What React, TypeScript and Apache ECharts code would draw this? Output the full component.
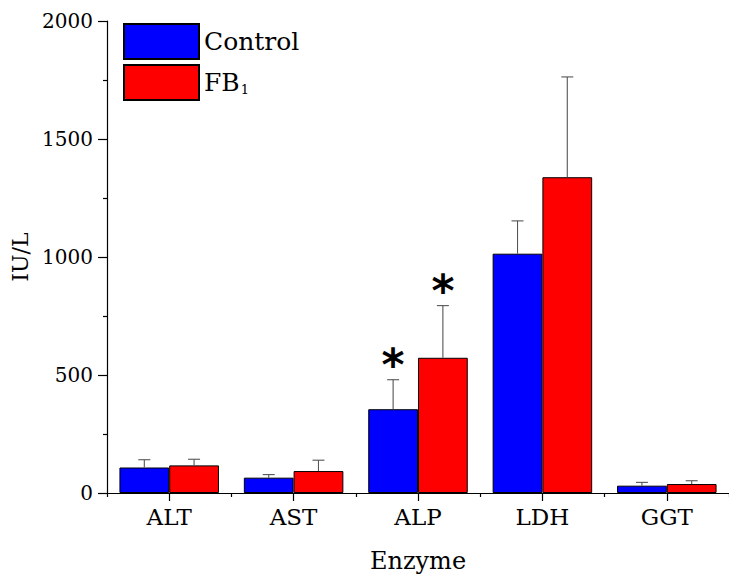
import React, { useEffect, useRef } from "react";
import * as echarts from "echarts";

const categories = ["ALT", "AST", "ALP", "LDH", "GGT"];
const controlMeans = [108, 65, 355, 1014, 31];
const controlErr = [33, 13, 125, 139, 14];
const fbMeans = [117, 93, 573, 1338, 38];
const fbErr = [26, 46, 221, 425, 14];
const controlSig = [false, false, true, false, false];
const fbSig = [false, false, true, false, false];
const yTicks = [0, 500, 1000, 1500, 2000];

const FONT = "DejaVu Serif";

function errData(means: number[], errs: number[], sig: boolean[]) {
  return means.map((m, i) => [i, m, m + errs[i], sig[i] ? 1 : 0]);
}

function makeRender(side: number) {
  return (params: any, api: any) => {
    const idx = api.value(0);
    const lo = api.coord([idx, api.value(1)]);
    const hi = api.coord([idx, api.value(2)]);
    const band = api.size([1, 0])[0];
    const cx = lo[0] + side * band * 0.2;
    const cap = 6;
    const children: any[] = [
      {
        type: "line",
        shape: { x1: cx, y1: lo[1], x2: cx, y2: hi[1] },
        style: { stroke: "#555", lineWidth: 1.1 },
      },
      {
        type: "line",
        shape: { x1: cx - cap, y1: hi[1], x2: cx + cap, y2: hi[1] },
        style: { stroke: "#555", lineWidth: 1.1 },
      },
    ];
    if (api.value(3) === 1) {
      children.push({
        type: "text",
        x: cx,
        y: hi[1] + 7,
        style: {
          text: "*",
          fill: "#000",
          font: "bold 44px DejaVu Sans",
          textAlign: "center",
          textVerticalAlign: "bottom",
        },
      });
    }
    return { type: "group", children };
  };
}

export default function App() {
  const ref = useRef<HTMLDivElement>(null);
  useEffect(() => {
    if (!ref.current) return;
    const chart = echarts.init(ref.current, null, { renderer: "svg" });
    chart.setOption({
      animation: false,
      backgroundColor: "#fff",
      textStyle: { fontFamily: FONT, color: "#000" },
      grid: { left: 107, right: 8, top: 21, bottom: 95 },
      legend: {
        data: ["Control", "FB1"],
        orient: "vertical",
        left: 123,
        top: 23,
        icon: "rect",
        itemWidth: 75,
        itemHeight: 35,
        itemGap: 4,
        padding: 0,
        formatter: (name: string) => (name === "FB1" ? "{a|FB}{b|1}" : "{a|" + name + "}"),
        textStyle: {
          rich: {
            a: { fontFamily: FONT, fontSize: 25, color: "#000" },
            b: { fontFamily: FONT, fontSize: 13, color: "#000", padding: [14, 0, 0, 1] },
          },
        },
      },
      xAxis: [
        {
          type: "category",
          data: categories,
          name: "Enzyme",
          nameLocation: "middle",
          nameGap: 56,
          nameTextStyle: { fontFamily: FONT, fontSize: 24, color: "#000" },
          axisLine: { show: true, lineStyle: { color: "#000", width: 1.2 } },
          axisTick: { show: true, alignWithLabel: true, length: 8, lineStyle: { color: "#000", width: 1.2 } },
          axisLabel: { fontFamily: FONT, fontSize: 23, color: "#000", margin: 12 },
        },
        {
          type: "category",
          data: categories,
          position: "bottom",
          axisLine: { show: false },
          axisTick: { show: true, alignWithLabel: false, length: 4, lineStyle: { color: "#000", width: 1.2 } },
          axisLabel: { show: false },
        },
      ],
      yAxis: {
        type: "value",
        min: yTicks[0],
        max: yTicks[yTicks.length - 1],
        interval: 500,
        name: "IU/L",
        nameLocation: "middle",
        nameGap: 72,
        nameTextStyle: { fontFamily: FONT, fontSize: 22, color: "#000" },
        axisLine: { show: true, lineStyle: { color: "#000", width: 1.2 } },
        axisTick: { show: true, length: 9, lineStyle: { color: "#000", width: 1.2 } },
        minorTick: { show: true, splitNumber: 2, length: 4, lineStyle: { color: "#000", width: 1.2 } },
        splitLine: { show: false },
        axisLabel: {
          fontFamily: FONT,
          fontSize: 20,
          color: "#000",
          margin: 14,
          formatter: (v: number) => String(v),
        },
      },
      series: [
        {
          name: "Control",
          type: "bar",
          data: controlMeans,
          barGap: "0%",
          barCategoryGap: "20%",
          itemStyle: { color: "#0000FF", borderColor: "#000", borderWidth: 1 },
        },
        {
          name: "FB1",
          type: "bar",
          data: fbMeans,
          barGap: "0%",
          barCategoryGap: "20%",
          itemStyle: { color: "#FF0000", borderColor: "#000", borderWidth: 1 },
        },
        {
          name: "ctrlErr",
          type: "custom",
          renderItem: makeRender(-1),
          data: errData(controlMeans, controlErr, controlSig),
          encode: { x: 0, y: [1, 2] },
          z: 5,
        },
        {
          name: "fbErr",
          type: "custom",
          renderItem: makeRender(1),
          data: errData(fbMeans, fbErr, fbSig),
          encode: { x: 0, y: [1, 2] },
          z: 5,
        },
      ],
    });
    return () => chart.dispose();
  }, []);
  return <div ref={ref} style={{ width: 737, height: 588, margin: -8 }} />;
}
